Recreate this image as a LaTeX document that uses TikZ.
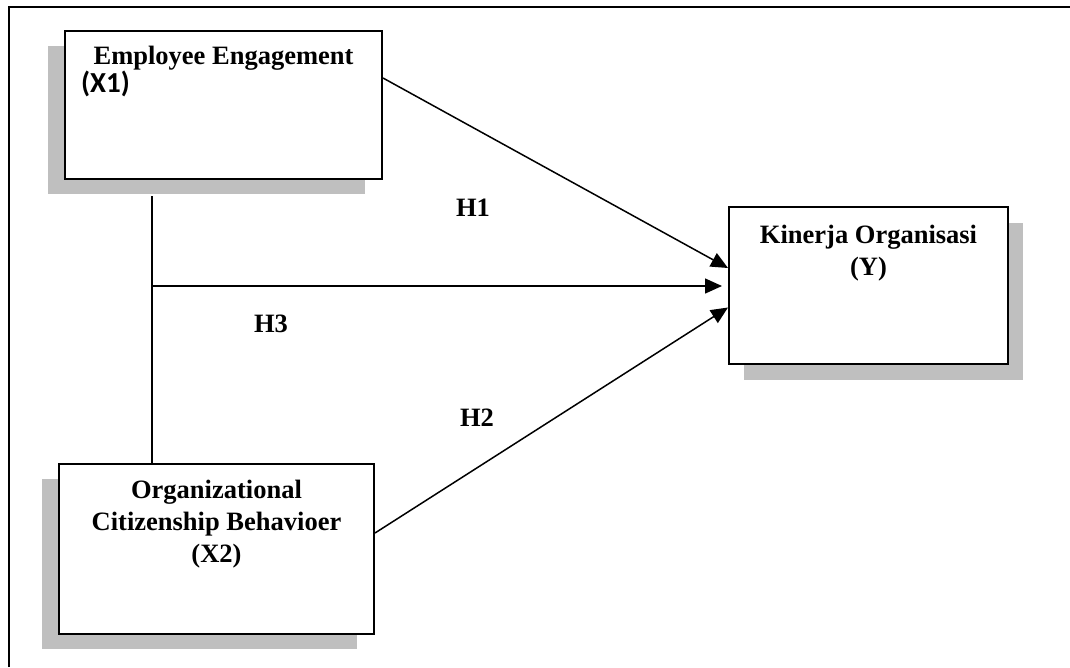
\documentclass[tikz,border=0pt]{standalone}
\usepackage{fontspec}
\setmainfont{Liberation Serif}
\newfontfamily\calfont{Carlito}
\usetikzlibrary{arrows.meta,shadows,calc}
\begin{document}
\begin{tikzpicture}[x=1pt,y=-1pt,
  box/.style={draw, line width=2pt, fill=white, inner sep=0pt},
  lshadow/.style={drop shadow={shadow xshift=-17pt, shadow yshift=-15pt, fill=black!25, opacity=1}},
  rshadow/.style={drop shadow={shadow xshift=15pt, shadow yshift=-16pt, fill=black!25, opacity=1}},
  lbl/.style={font=\bfseries\fontsize{26.5}{32}\selectfont, inner sep=0pt, anchor=base},
  conn/.style={line width=1.5pt},
  arr/.style={conn, -{Triangle[length=17pt,width=15pt]}}]
\useasboundingbox (0,0) rectangle (1070,667);
\draw[line width=1.8pt] (9,667) -- (9,7) -- (1070,7);
% boxes
\node[box, lshadow, minimum width=317pt, minimum height=148pt] (x1) at (223.5,105) {};
\node[box, lshadow, minimum width=315pt, minimum height=170pt] (x2) at (216.5,549) {};
\node[box, rshadow, minimum width=279pt, minimum height=157pt] (y) at (868.5,285.5) {};
% texts
\node[lbl] (t1) at (223.5,64) {Employee Engagement};
\node[inner sep=0pt, anchor=base west, font=\calfont\bfseries\fontsize{29}{32}\selectfont] (t1b) at (81,92) {(X1)};
\node[lbl] (t2a) at (216.5,498) {Organizational};
\node[lbl] (t2b) at (216.5,530) {Citizenship Behavioer};
\node[lbl] (t2c) at (216.5,562) {(X2)};
\node[lbl] (t3a) at (868.5,243) {Kinerja Organisasi};
\node[lbl] (t3b) at (868.5,275) {(Y)};
\node[lbl] (h1) at (473,216) {H1};
\node[lbl] (h2) at (477,426) {H2};
\node[lbl] (h3) at (271,332) {H3};
% connectors
\coordinate (j) at (152,286);
\path (x1.south -| j) ++(0,16) coordinate (vt);
\draw[conn] (vt) -- (x2.north -| j);
\draw[arr] ([yshift=27pt]x1.east) -- ([yshift=17.5pt]y.west);
\draw[arr] (j) -- ([xshift=-6pt]y.west |- j);
\draw[arr] ([yshift=16pt]x2.east) -- ([yshift=-22pt]y.west);
\end{tikzpicture}
\end{document}
